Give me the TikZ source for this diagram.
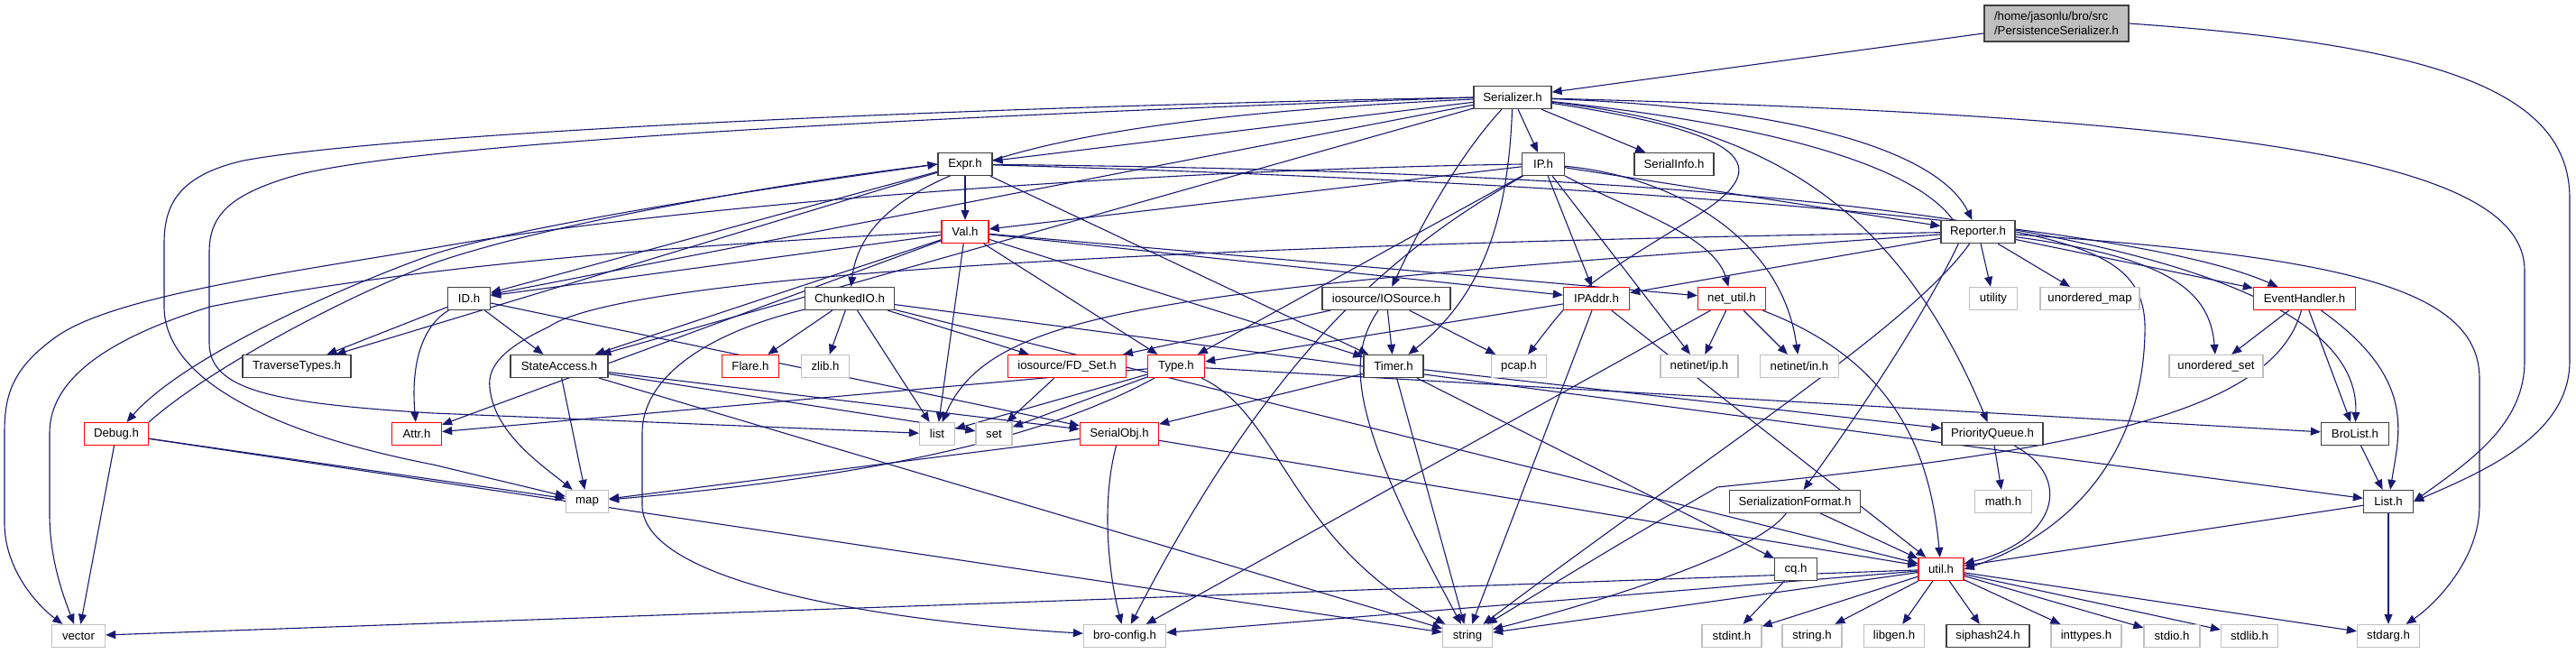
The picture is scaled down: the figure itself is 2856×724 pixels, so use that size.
\documentclass[tikz,border=0pt]{standalone}
\usepackage{fontspec}
\setmainfont{Liberation Sans}
\usetikzlibrary{arrows.meta}
\definecolor{edgec}{HTML}{191970}
\definecolor{redb}{HTML}{FF0000}
\definecolor{greyb}{HTML}{BFBFBF}
\definecolor{darkb}{HTML}{404040}
\pgfdeclarelayer{edgelayer}
\pgfsetlayers{edgelayer,main}
\begin{document}
\begin{tikzpicture}[x=1pt,y=-1pt,
  box/.style={draw=darkb, line width=1.3pt, fill=white, inner sep=0pt, minimum height=25pt, font=\fontsize{13.2}{16}\selectfont},
  doc/.style={box},
  trunc/.style={box, draw=redb},
  ext/.style={box, draw=greyb},
  e/.style={draw=edgec, line width=1.1pt, -{Triangle[length=11pt,width=9pt]}}]
\begin{pgfonlayer}{edgelayer}
\fill[white] (0,0) rectangle (2856,724);
\end{pgfonlayer}
\useasboundingbox (0,0) rectangle (2856,724);
% nodes
\node[box, fill=greyb, minimum width=160pt, minimum height=40pt, align=left] (ps) at (2280,26) {/home/jasonlu/bro/src\\/PersistenceSerializer.h};
\node[doc, minimum width=86pt] (ser) at (1677,108) {Serializer.h};
\node[doc, minimum width=60pt] (expr) at (1070,182) {Expr.h};
\node[doc, minimum width=47pt] (ip) at (1711,182) {IP.h};
\node[doc, minimum width=88pt] (sinfo) at (1856,182) {SerialInfo.h};
\node[trunc, minimum width=52pt] (val) at (1070,257) {Val.h};
\node[doc, minimum width=82pt] (rep) at (2193,257) {Reporter.h};
\node[doc, minimum width=47pt] (id) at (520,331) {ID.h};
\node[doc, minimum width=99pt] (cio) at (942,331) {ChunkedIO.h};
\node[doc, minimum width=142pt] (ios) at (1537,331) {iosource/IOSource.h};
\node[trunc, minimum width=73pt] (ipa) at (1770,331) {IPAddr.h};
\node[trunc, minimum width=75pt] (nu) at (1920,331) {net\_util.h};
\node[ext, minimum width=53pt] (utility) at (2210,331) {utility};
\node[ext, minimum width=110pt] (umap) at (2317,331) {unordered\_map};
\node[trunc, minimum width=113pt] (eh) at (2555,331) {EventHandler.h};
\node[doc, minimum width=120pt] (tt) at (329,406) {TraverseTypes.h};
\node[doc, minimum width=108pt] (sa) at (620,406) {StateAccess.h};
\node[trunc, minimum width=63pt] (flare) at (832,406) {Flare.h};
\node[ext, minimum width=53pt] (zlib) at (915,406) {zlib.h};
\node[trunc, minimum width=131pt] (fds) at (1183,406) {iosource/FD\_Set.h};
\node[trunc, minimum width=63pt] (type) at (1304,406) {Type.h};
\node[doc, minimum width=66pt] (timer) at (1545,406) {Timer.h};
\node[ext, minimum width=61pt] (pcap) at (1684,406) {pcap.h};
\node[ext, minimum width=86pt] (nip) at (1884,406) {netinet/ip.h};
\node[ext, minimum width=87pt] (nin) at (1995,406) {netinet/in.h};
\node[ext, minimum width=104pt] (uset) at (2457,406) {unordered\_set};
\node[trunc, minimum width=71pt] (debug) at (129,481) {Debug.h};
\node[trunc, minimum width=55pt] (attr) at (462,481) {Attr.h};
\node[ext, minimum width=39pt] (list) at (1039,481) {list};
\node[ext, minimum width=40pt] (set) at (1102,481) {set};
\node[trunc, minimum width=87pt] (sobj) at (1241,481) {SerialObj.h};
\node[doc, minimum width=112pt] (pq) at (2209,481) {PriorityQueue.h};
\node[doc, minimum width=75pt] (brol) at (2611,481) {BroList.h};
\node[ext, minimum width=47pt] (map) at (651,556) {map};
\node[doc, minimum width=145pt] (sf) at (1990,556) {SerializationFormat.h};
\node[ext, minimum width=63pt] (math) at (2221,556) {math.h};
\node[doc, minimum width=55pt] (listh) at (2648,556) {List.h};
\node[doc, minimum width=47pt] (cq) at (1991,631) {cq.h};
\node[trunc, minimum width=50pt] (utilh) at (2152,631) {util.h};
\node[ext, minimum width=59pt] (vector) at (87,705) {vector};
\node[ext, minimum width=91pt] (bc) at (1247,705) {bro-config.h};
\node[ext, minimum width=55pt] (string) at (1627,705) {string};
\node[ext, minimum width=66pt] (stdint) at (1920,705) {stdint.h};
\node[ext, minimum width=66pt] (stringh) at (2009,705) {string.h};
\node[ext, minimum width=67pt] (libgen) at (2100,705) {libgen.h};
\node[doc, minimum width=92pt] (sip) at (2204,705) {siphash24.h};
\node[ext, minimum width=78pt] (intt) at (2313,705) {inttypes.h};
\node[ext, minimum width=62pt] (stdio) at (2408,705) {stdio.h};
\node[ext, minimum width=63pt] (stdlib) at (2494,705) {stdlib.h};
\node[ext, minimum width=69pt] (stdarg) at (2648,705) {stdarg.h};
\begin{pgfonlayer}{edgelayer}
% edges: PersistenceSerializer
\draw[e] (ps) -- (ser);
\draw[e] (ps.east) .. controls (2700,50) and (2849,100) .. (2849,220) -- (2849,400) .. controls (2849,480) and (2760,520) .. (listh.east);
% Serializer
\draw[e] (ser) -- (expr);
\draw[e] (ser) -- (ip);
\draw[e] (ser) -- (sinfo);
\draw[e] (ser) .. controls (1620,170) and (1580,240) .. (ios);
\draw[e] (ser) .. controls (2000,120) and (2150,170) .. (rep);
\draw[e] (ser) .. controls (1672,250) and (1640,330) .. (timer);
\draw[e] (ser) .. controls (1200,130) and (960,180) .. (cio);
\draw[e] (ser) -- (id);
\draw[e] (ser) -- (sa);
\draw[e] (ser.west) .. controls (1000,120) and (420,150) .. (270,178) .. controls (195,195) and (182,230) .. (182,270) -- (182,340) .. controls (182,420) and (300,480) .. (480,515) -- (map);
\draw[e] (ser.west) .. controls (1000,130) and (480,158) .. (333,193) .. controls (252,215) and (232,240) .. (232,280) -- (232,380) .. controls (232,432) and (300,447) .. (480,458) -- (list);
\draw[e] (ser) .. controls (1950,140) and (2100,220) .. (pq);
\draw[e] (ser) .. controls (1960,150) and (1960,190) .. (1880,240) .. controls (1750,320) .. (pcap);
\draw[e] (ser) .. controls (1980,140) and (2150,190) .. (2175,262) .. controls (2140,340) and (2060,460) .. (sf);
\draw[e] (ser) .. controls (2500,130) and (2799,180) .. (2799,300) -- (2799,400) .. controls (2799,470) and (2740,510) .. (listh.east);
% Expr
\draw[e] (expr) -- (val);
\draw[e] (expr) -- (timer);
\draw[e] (expr) -- (id);
\draw[e] (expr.west) .. controls (800,215) and (560,255) .. (480,282) .. controls (360,325) and (200,400) .. (debug);
\draw[e] (expr) -- (tt);
\draw[e] (expr) .. controls (1700,200) and (2350,240) .. (eh);
\draw[e] (expr) .. controls (1800,190) and (2620,230) .. (brol);
% Debug
\draw[e] (debug) -- (vector);
\draw[e] (debug) -- (map);
\draw[e] (debug) -- (string);
\draw[e] (debug.north east) .. controls (230,410) and (380,330) .. (480,292) .. controls (600,250) and (850,205) .. (expr.west);
% IP
\draw[e] (ip) .. controls (1560,270) and (1420,370) .. (bc);
\draw[e] (ip) .. controls (1800,230) and (1900,260) .. (nu);
\draw[e] (ip) -- (ipa);
\draw[e] (ip) -- (rep);
\draw[e] (ip) -- (val);
\draw[e] (ip) -- (type);
\draw[e] (ip.west) .. controls (1200,190) and (700,235) .. (480,275) .. controls (300,305) and (120,330) .. (60,375) .. controls (12,410) and (5,440) .. (5,480) -- (5,580) .. controls (5,630) and (40,670) .. (vector);
\draw[e] (ip) .. controls (1850,195) and (1975,260) .. (nin);
\draw[e] (ip) -- (nip);
% Val
\draw[e] (val.west) .. controls (800,270) and (480,290) .. (233,340) .. controls (120,375) and (55,420) .. (55,480) -- (55,570) .. controls (55,620) and (70,660) .. (vector);
\draw[e] (val) -- (list);
\draw[e] (val) -- (nu);
\draw[e] (val) -- (type);
\draw[e] (val) -- (attr);
\draw[e] (val) -- (timer);
\draw[e] (val) -- (id);
\draw[e] (val) -- (sa);
\draw[e] (val) -- (ipa);
% Reporter
\draw[e] (rep) .. controls (2600,285) and (2749,320) .. (2749,420) -- (2749,560) .. controls (2749,620) and (2700,670) .. (stdarg);
\draw[e] (rep) .. controls (1300,320) and (1100,340) .. (list);
\draw[e] (rep) -- (utility);
\draw[e] (rep) -- (umap);
\draw[e] (rep) .. controls (2120,360) and (1900,500) .. (string);
\draw[e] (rep) .. controls (1400,270) and (700,300) .. (609,362) .. controls (560,385) and (540,405) .. (543,430) .. controls (548,480) and (600,515) .. (map);
\draw[e] (rep) .. controls (2400,285) and (2450,320) .. (uset);
\draw[e] (rep.east) .. controls (2350,280) and (2380,310) .. (2378,370) .. controls (2375,500) and (2300,590) .. (utilh.east);
\draw[e] (rep) -- (eh);
\draw[e] (rep) -- (ipa);
% ID
\draw[e] (id) .. controls (470,360) and (455,400) .. (attr);
\draw[e] (id) -- (tt);
\draw[e] (id) -- (sa);
\draw[e] (id) -- (sobj);
% ChunkedIO
\draw[e] (cio) -- (flare);
\draw[e] (cio) -- (zlib);
\draw[e] (cio) -- (fds);
\draw[e] (cio) -- (list);
\draw[e] (cio) .. controls (780,370) and (712,420) .. (712,480) -- (712,560) .. controls (712,650) and (1000,690) .. (bc);
\draw[e] (cio) -- (listh);
\draw[e] (cio) -- (utilh);
% IOSource
\draw[e] (ios) -- (fds);
\draw[e] (ios) -- (timer);
\draw[e] (ios) .. controls (1490,400) and (1500,470) .. (string);
\draw[e] (ios) -- (pcap);
% IPAddr
\draw[e] (ipa) -- (type);
\draw[e] (ipa) -- (string);
\draw[e] (ipa) -- (utilh);
% net_util
\draw[e] (nu) -- (nip);
\draw[e] (nu) -- (nin);
\draw[e] (nu) .. controls (2100,400) and (2140,500) .. (utilh);
\draw[e] (nu) -- (bc);
% EventHandler
\draw[e] (eh) -- (uset);
\draw[e] (eh) -- (brol);
\draw[e] (eh) .. controls (2680,420) and (2660,480) .. (listh);
\draw[e] (eh) .. controls (2520,460) and (2300,500) .. (1904,540) .. controls (1800,600) .. (string);
% StateAccess
\draw[e] (sa) -- (map);
\draw[e] (sa) -- (set);
\draw[e] (sa) -- (sobj);
\draw[e] (sa) -- (string);
% FD_Set
\draw[e] (fds) -- (set);
% Type
\draw[e] (type) .. controls (1420,460) and (1430,600) .. (string);
\draw[e] (type) -- (set);
\draw[e] (type) -- (list);
\draw[e] (type) -- (attr);
\draw[e] (type) .. controls (1150,490) and (950,530) .. (map);
\draw[e] (type) -- (brol);
% Timer
\draw[e] (timer) -- (sobj);
\draw[e] (timer) -- (string);
\draw[e] (timer) -- (cq);
\draw[e] (timer) -- (pq);
% SerialObj
\draw[e] (sobj) .. controls (1220,560) and (1230,640) .. (bc);
\draw[e] (sobj) -- (utilh);
\draw[e] (sobj) -- (map);
% PriorityQueue
\draw[e] (pq) -- (math);
\draw[e] (pq) .. controls (2300,530) and (2280,600) .. (utilh);
% BroList, List
\draw[e] (brol) -- (listh);
\draw[e] (listh) -- (stdarg);
\draw[e] (listh) -- (utilh);
% SerializationFormat
\draw[e] (sf) -- (utilh);
\draw[e] (sf) .. controls (1950,610) and (1800,660) .. (string);
% cq
\draw[e] (cq) -- (stdint);
% util.h
\draw[e] (utilh) -- (vector);
\draw[e] (utilh) -- (bc);
\draw[e] (utilh) -- (string);
\draw[e] (utilh) -- (stdint);
\draw[e] (utilh) -- (stringh);
\draw[e] (utilh) -- (libgen);
\draw[e] (utilh) -- (sip);
\draw[e] (utilh) -- (intt);
\draw[e] (utilh) -- (stdio);
\draw[e] (utilh) -- (stdlib);
\draw[e] (utilh) -- (stdarg);
\end{pgfonlayer}
\end{tikzpicture}
\end{document}
